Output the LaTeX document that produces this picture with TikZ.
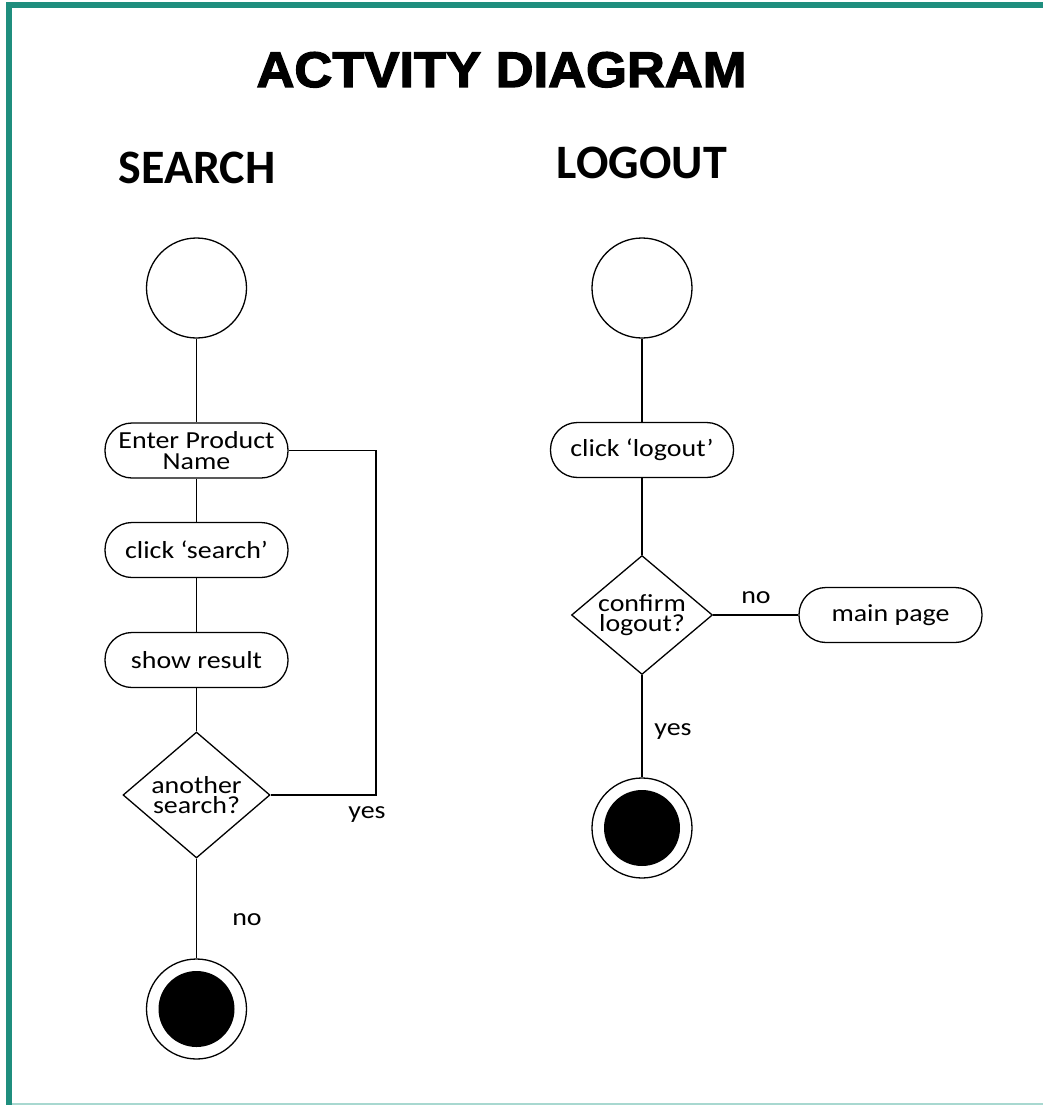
\documentclass[tikz,border=0pt]{standalone}
\usepackage{fontspec}
\setmainfont{Carlito}
\newfontfamily\bodyfont[FakeStretch=1.14]{Carlito}
\newfontfamily\titlefont[FakeBold=2.6,FakeStretch=1.05]{Liberation Sans Bold}
\usetikzlibrary{shapes.geometric}
\definecolor{frameteal}{HTML}{1F8E7E}
\definecolor{framelight}{HTML}{A8D8D0}
\begin{document}
\begin{tikzpicture}[x=1pt,y=-1pt,
  flow/.style={line width=1.6pt},
  bodytext/.style={font=\bodyfont\fontsize{24.5}{20.5}\selectfont},
  action/.style={draw, line width=1.3pt, rounded corners=27pt,
    minimum width=183pt, minimum height=55pt, inner sep=0pt,
    align=center, bodytext},
  decision/.style={draw, diamond, aspect=1.17, line width=1.3pt,
    inner sep=0pt, align=center, bodytext},
  startnode/.style={draw, circle, line width=1.3pt, minimum size=100pt, inner sep=0pt},
  endnode/.style={draw, circle, line width=1.3pt, minimum size=100pt, inner sep=0pt,
    path picture={\fill (path picture bounding box.center) circle (38pt);}},
  guard/.style={bodytext, inner sep=0pt, anchor=base},
  heading/.style={font=\bfseries\fontsize{48}{48}\selectfont, inner sep=0pt, anchor=base}
]
\useasboundingbox (0,0) rectangle (1043,1105);
\fill[white] (0,0) rectangle (1043,1105);

% frame
\fill[frameteal] (6,2.5) rectangle (1043,8);
\fill[frameteal] (6,2.5) rectangle (12,1105);
\fill[framelight] (12,1103) rectangle (1043,1105);

% titles
\node[inner sep=0pt, anchor=base, font=\titlefont\fontsize{50}{50}\selectfont]
  (title) at (501.5,87) {ACTVITY DIAGRAM};
\node[heading] (hsearch) at (197,183) {SEARCH};
\node[heading] (hlogout) at (642,178) {LOGOUT};

% search flow
\node[startnode] (s0) at (196.5,288) {};
\node[action] (s1) at (196.5,450.5) {Enter Product\\Name};
\node[action] (s2) at (196.5,550) {click ‘search’};
\node[action] (s3) at (196.5,660) {show result};
\node[decision, minimum width=147pt, minimum height=126pt] (s4) at (196.5,795) {another\\search?};
\node[endnode] (s5) at (196.5,1009) {};
\coordinate (sloop) at (376,700);

\draw[flow] (s0) -- (s1);
\draw[flow] (s1) -- (s2);
\draw[flow] (s2) -- (s3);
\draw[flow] (s3) -- (s4);
\draw[flow] (s4) -- (s5);
\draw[flow] (s1.east) -| (sloop) |- (s4.east);
\node[guard] (syes) at (367,818) {yes};
\node[guard] (sno) at (247,925) {no};

% logout flow
\node[startnode] (r0) at (642,288) {};
\node[action] (r1) at (642,450) {click ‘logout’};
\node[decision, minimum width=141pt, minimum height=119pt] (r2) at (642,615) {confirm\\logout?};
\node[action] (r3) at (890.5,615) {main page};
\node[endnode] (r4) at (642,828) {};

\draw[flow] (r0) -- (r1);
\draw[flow] (r1) -- (r2);
\draw[flow] (r2) -- (r3);
\draw[flow] (r2) -- (r4);
\node[guard] (rno) at (756,603) {no};
\node[guard] (ryes) at (673,735) {yes};
\end{tikzpicture}
\end{document}
